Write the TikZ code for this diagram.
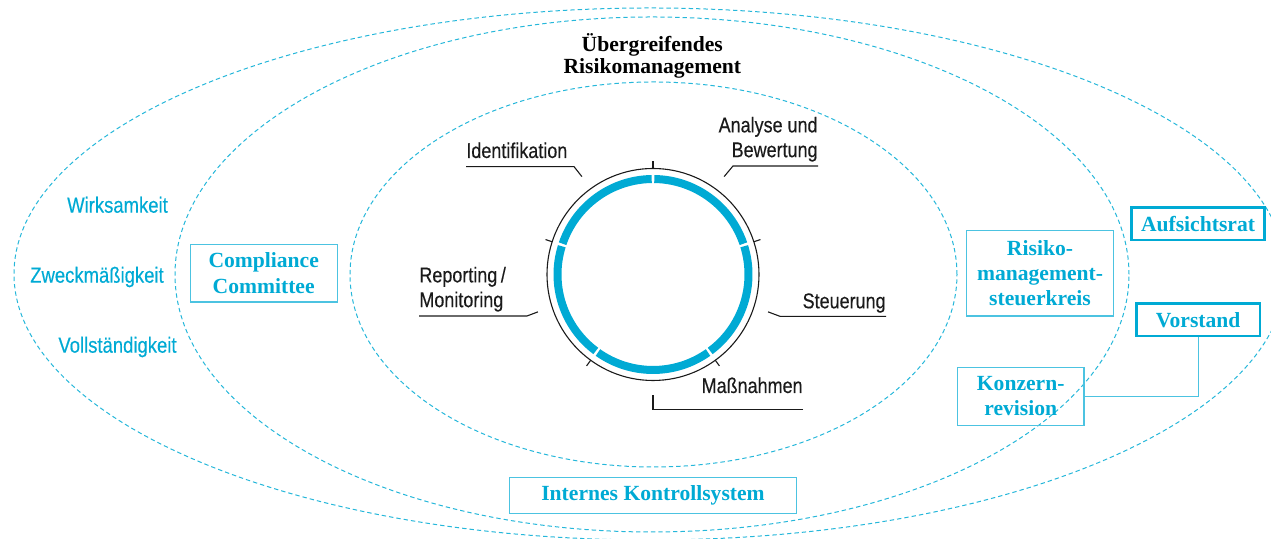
\documentclass[tikz,border=0pt]{standalone}
\usepackage{fontspec}
\setmainfont{Liberation Serif}
\newfontfamily\narrowsans[FakeStretch=0.84, FakeBold=0.35]{Liberation Sans}
\usetikzlibrary{positioning}
\definecolor{rmcyan}{HTML}{00AAD4}
\definecolor{rmline}{HTML}{1A1A1A}

\begin{document}
\begin{tikzpicture}[x=0.5pt, y=0.5pt, zone/.style={draw=rmcyan!85, line width=0.5pt, dash pattern=on 2.2pt off 1.5pt}, lbl/.style={text=rmline, inner sep=0pt, font=\narrowsans\fontsize{10.7pt}{12.4pt}\selectfont}, crit/.style={text=rmcyan, inner sep=0pt, font=\narrowsans\fontsize{11pt}{13pt}\selectfont}, body/.style={draw=rmcyan!70, line width=0.6pt, text=rmcyan, align=center, inner sep=0pt, font=\bfseries\fontsize{10.8pt}{12.6pt}\selectfont}, board/.style={body, draw=rmcyan, line width=1.3pt}, lead/.style={draw=rmline, line width=0.55pt}, cyclearc/.style={draw=rmcyan, line width=4pt}]
\useasboundingbox (0,0) rectangle (1271,539);
\clip (0,0) rectangle (1271,539);
\path[zone] (650,265) ellipse [x radius=636, y radius=266];
\path[zone] (652,264.5) ellipse [x radius=477, y radius=257.5];
\path[zone] (653.5,264.5) ellipse [x radius=303.5, y radius=192.5];
\node[font=\bfseries\fontsize{10.8pt}{11.3pt}\selectfont, align=center, inner sep=0pt] (title) at (652.3,483) {Übergreifendes\\Risikomanagement};
\coordinate (hub) at (653,264.5);
\draw[line width=0.55pt, rmline] (hub) circle [radius=106];
\foreach \a [evaluate=\a as \s using \a+0.8, evaluate=\a as \e using \a+71.2] in {90,18,-54,-126,162}{
  \draw[cyclearc] ([shift={(\s:95.5)}]hub) arc [start angle=\s, end angle=\e, radius=95.5];
  \draw[lead] ([shift={(\a:106)}]hub) -- ([shift={(\a:113)}]hub);
}
\node[lbl, anchor=base west] (ident) at (466,381) {Identifikation};
\node[lbl, anchor=south east, align=right] (analyse) at (818,377) {Analyse und\\Bewertung};
\node[lbl, anchor=south west, align=left] (report) at (419,227) {Reporting\,/\\Monitoring};
\node[lbl, anchor=base east] (steer) at (886,230.7) {Steuerung};
\node[lbl, anchor=base east] (measure) at (803,146) {Maßnahmen};
\draw[lead] ([yshift=-4pt]ident.south west) -- ++(108,0) -- ([shift={(126:121)}]hub);
\draw[lead] ([yshift=-2pt]analyse.south east) -- ++(-85,0) -- ([shift={(54:121)}]hub);
\draw[lead] ([yshift=-2pt]report.south west) -- ++(108,0) -- ([shift={(198:121)}]hub);
\draw[lead] ([yshift=-1.6pt]steer.south east) -- ++(-106,0) -- ([shift={(-18:121)}]hub);
\draw[lead] ([yshift=-8pt]measure.south east) -- ++(-150,0) -- ([shift={(270:121)}]hub);
\node[crit, anchor=base] (wirk) at (117.5,326.3) {Wirksamkeit};
\node[crit, anchor=base] (zweck) at (97,256.3) {Zweckmäßigkeit};
\node[crit, anchor=base] (voll) at (117.5,186.3) {Vollständigkeit};
\node[body, minimum width=73.6pt, minimum height=28.9pt] (cc) at (263.7,265.9) {Compliance\\Committee};
\node[body, minimum width=73.3pt, minimum height=42.7pt] (rmsk) at (1040,265.6) {Risiko-\\management-\\steuerkreis};
\node[board, minimum width=66.5pt, minimum height=16.4pt] (ar) at (1198,315.3) {Aufsichtsrat};
\node[board, minimum width=61.8pt, minimum height=16.4pt] (vs) at (1198.2,219.3) {Vorstand};
\node[body, minimum width=63.3pt, minimum height=29pt] (kr) at (1020.7,142.7) {Konzern-\\revision};
\node[body, minimum width=143.3pt, minimum height=18.3pt] (iks) at (653,43.4) {Internes Kontrollsystem};
\draw[draw=rmcyan!70, line width=0.6pt] (vs.south) |- (kr.east);
\end{tikzpicture}
\end{document}
